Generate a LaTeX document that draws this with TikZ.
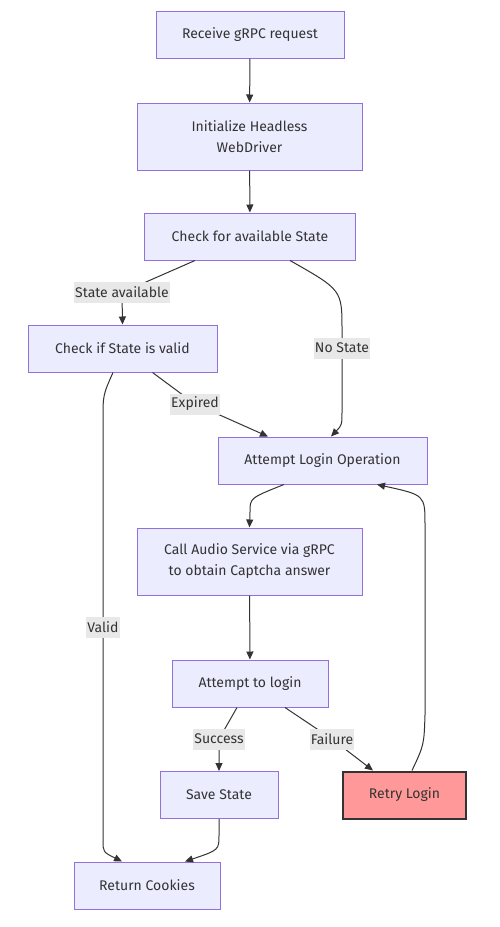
\documentclass[tikz,border=0pt]{standalone}
\usepackage{fontspec}
\setmainfont{Fira Sans}
\usetikzlibrary{arrows.meta}
\definecolor{nodefill}{HTML}{ECECFF}
\definecolor{nodeline}{HTML}{9370DB}
\definecolor{edgecol}{HTML}{333333}
\definecolor{lblbg}{HTML}{E8E8E8}
\definecolor{retryfill}{HTML}{FF9999}
\begin{document}
\begin{tikzpicture}[x=1pt,y=-1pt,
  box/.style={draw=nodeline, fill=nodefill, line width=1pt, inner sep=0pt,
    minimum height=47pt, text=edgecol, align=center,
    font=\fontsize{14}{21}\selectfont},
  retrybox/.style={box, draw=edgecol, fill=retryfill, line width=2pt},
  arr/.style={draw=edgecol, line width=1pt, -{Triangle[length=8pt,width=7pt]}},
  lbl/.style={fill=lblbg, inner xsep=1pt, inner ysep=0pt, minimum height=21pt,
    text=edgecol, font=\fontsize{14}{16}\selectfont}]
\useasboundingbox[fill=white] (0,0) rectangle (499,927);
\node[box, minimum width=188pt] (recv) at (250,34.5) {Receive gRPC request};
\node[box, minimum width=225pt, minimum height=67pt] (init) at (249.5,136.5) {Initialize Headless\\WebDriver};
\node[box, minimum width=211pt] (chk) at (250,236.5) {Check for available State};
\node[box, minimum width=189pt] (valid) at (122.5,348.5) {Check if State is valid};
\node[box, minimum width=209pt] (op) at (322.5,460.5) {Attempt Login Operation};
\node[box, minimum width=225pt, minimum height=67pt] (call) at (249.5,561.5) {Call Audio Service via gRPC\\to obtain Captcha answer};
\node[box, minimum width=156pt] (att) at (250,683.5) {Attempt to login};
\node[box, minimum width=118pt] (save) at (219,795) {Save State};
\node[retrybox, minimum width=123pt] (retry) at (404.5,795) {Retry Login};
\node[box, minimum width=146pt] (ret) at (147,885.5) {Return Cookies};
% waypoints
\coordinate (pSA) at (122,292.5);
\coordinate (pNS) at (342,348);
\coordinate (pEx) at (195,404);
\coordinate (pVa) at (103,627);
\coordinate (pSu) at (219,739);
\coordinate (pFa) at (332,739);
% edges
\draw[arr] (recv) -- (init);
\draw[arr] (init) -- (chk);
\draw[arr] ([xshift=-55pt]chk.south) -- (pSA) -- (valid.north);
\draw[arr] ([xshift=40pt]chk.south) .. controls (342,290) .. (342,330) -- (342,410) .. controls (342,425) .. ([xshift=8.5pt]op.north);
\draw[arr] ([xshift=30pt]valid.south) -- (pEx) -- ([xshift=-54.5pt]op.north);
\draw[arr] ([xshift=-9.5pt]valid.south) .. controls (103,395) .. (103,420) -- (103,840) .. controls (103,852) .. ([xshift=-25pt]ret.north);
\draw[arr] ([xshift=-38.5pt]op.south) .. controls (250,498) .. (250,512) -- (call.north);
\draw[arr] (call) -- (att);
\draw[arr] ([xshift=-13pt]att.south) -- (pSu) -- (save.north);
\draw[arr] ([xshift=35pt]att.south) -- (pFa) -- ([xshift=-31.5pt]retry.north);
\draw[arr] ([xshift=7.5pt]retry.north) .. controls (424,745) .. (425,715) -- (425,525) .. controls (425,495) .. ([xshift=54.5pt]op.south);
\draw[arr] (save.south) -- (219,835) .. controls (219,850) .. ([xshift=38pt]ret.north);
% labels
\node[lbl] (lSA) at (pSA) {State available};
\node[lbl] (lNS) at (pNS) {No State};
\node[lbl] (lEx) at (pEx) {Expired};
\node[lbl] (lVa) at (pVa) {Valid};
\node[lbl] (lSu) at (pSu) {Success};
\node[lbl] (lFa) at (pFa) {Failure};
\end{tikzpicture}
\end{document}
